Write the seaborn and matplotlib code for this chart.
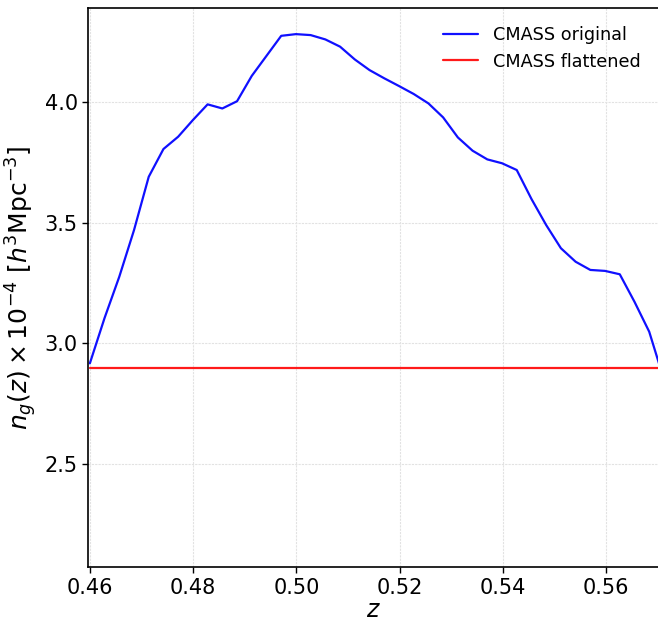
import numpy as np
import pandas as pd
import matplotlib
matplotlib.use("Agg")
import matplotlib.pyplot as plt
import seaborn as sns

# Data
z_start = 0.46
z_step = 0.00285
ng_original = [2.917, 3.105, 3.276, 3.469, 3.690, 3.805, 3.856, 3.925, 3.990, 3.973,
               4.003, 4.108, 4.191, 4.274, 4.281, 4.277, 4.259, 4.229, 4.176, 4.132,
               4.098, 4.066, 4.033, 3.994, 3.936, 3.853, 3.798, 3.762, 3.746, 3.718,
               3.598, 3.490, 3.394, 3.338, 3.304, 3.300, 3.286, 3.172, 3.048, 2.850]
ng_flat_value = 2.898
z_values = [round(z_start + i * z_step, 5) for i in range(len(ng_original))]
ng_flattened = [ng_flat_value] * len(z_values)
x_ticks = [0.46, 0.48, 0.50, 0.52, 0.54, 0.56]
y_ticks = [2.5, 3.0, 3.5, 4.0]

sns.set_style("ticks")
plt.rcParams['font.family'] = ['DejaVu Sans']

df = pd.DataFrame({
    "z": z_values * 2,
    "ng": ng_original + ng_flattened,
    "series": ["CMASS original"] * len(z_values) + ["CMASS flattened"] * len(z_values),
})

fig = plt.figure(figsize=(6.58, 6.20), dpi=100)
ax = fig.add_axes([0.1342, 0.085, 0.8658, 0.902])

sns.lineplot(data=df, x="z", y="ng", hue="series",
             palette={"CMASS original": "#1010ff", "CMASS flattened": "#ff1a1a"},
             linewidth=1.6, ax=ax, sort=False, estimator=None)

ax.set_xlim(0.4597, 0.570)
ax.set_ylim(2.072, 4.389)
ax.set_xticks(x_ticks)
ax.set_xticklabels([f"{t:.2f}" for t in x_ticks])
ax.set_yticks(y_ticks)
ax.set_yticklabels([f"{t:.1f}" for t in y_ticks])
ax.tick_params(axis="both", labelsize=15, length=4, width=1, direction="out",
               colors="black")
ax.grid(True, color="#e2e2e2", linewidth=0.8, linestyle=(0, (2, 1)))
for s in ["left", "bottom", "top"]:
    ax.spines[s].set_color("black")
    ax.spines[s].set_linewidth(1.2)
ax.spines["right"].set_visible(False)

ax.set_xlabel(r"$z$", fontsize=17, labelpad=0, color="black")
ax.set_ylabel(r"$n_g(z)\times10^{-4}$ [$h^3$Mpc$^{-3}$]", fontsize=18, labelpad=4,
              color="black")

leg = ax.legend(loc="upper right", frameon=False, fontsize=12.7,
                handlelength=2.0, borderaxespad=0.6)
leg.set_title(None)
for t in leg.get_texts():
    t.set_color("black")

fig.savefig("out.png", dpi=100)
